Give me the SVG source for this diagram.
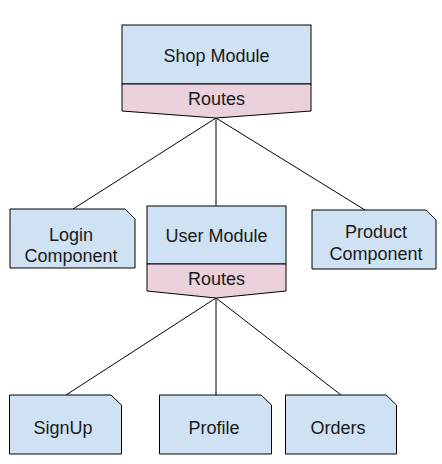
<svg xmlns="http://www.w3.org/2000/svg" width="442" height="464" viewBox="0 0 442 464">
<style>
.blue{fill:#cfe2f3;stroke:#000;stroke-width:1}
.pink{fill:#ead1dc;stroke:#000;stroke-width:1}
.t{font-family:"Liberation Sans",Arial,sans-serif;font-size:18px;fill:#1a1a1a;text-anchor:middle}
.c{stroke:#000;stroke-width:1;fill:none}
</style>
<rect width="442" height="464" fill="#fff"/>
<g id="connectors">
<line class="c" x1="216" y1="118" x2="73" y2="209"/>
<line class="c" x1="216" y1="118" x2="216" y2="206"/>
<line class="c" x1="216" y1="118" x2="365" y2="210"/>
<line class="c" x1="216" y1="298" x2="66" y2="395"/>
<line class="c" x1="216" y1="298" x2="216" y2="395"/>
<line class="c" x1="216" y1="298" x2="341" y2="395"/>
</g>
<g id="shop-module">
<rect class="blue" x="122" y="25" width="189" height="59"/>
<path class="pink" d="M122 84 H311 V111 L216 118 L122 111 Z"/>
<text class="t" x="216.5" y="62">Shop Module</text>
<text class="t" x="216.5" y="104.5">Routes</text>
</g>
<g id="login-component">
<path class="blue" d="M10 209 H125 L135 219 V268 H10 Z"/>
<text class="t" x="71" y="241">Login</text>
<text class="t" x="71" y="261.5">Component</text>
</g>
<g id="user-module">
<rect class="blue" x="147" y="206" width="139" height="58"/>
<path class="pink" d="M147 264 H286 V291 L216 298 L147 291 Z"/>
<text class="t" x="216.5" y="242">User Module</text>
<text class="t" x="216.5" y="284.5">Routes</text>
</g>
<g id="product-component">
<path class="blue" d="M312 210 H426 L436 220 V269 H312 Z"/>
<text class="t" x="376" y="238">Product</text>
<text class="t" x="376" y="260">Component</text>
</g>
<g id="signup">
<path class="blue" d="M9.5 395 H111 L121.5 405 V454 H9.5 Z"/>
<text class="t" x="63" y="434">SignUp</text>
</g>
<g id="profile">
<path class="blue" d="M159.5 395 H261 L271.5 405 V454 H159.5 Z"/>
<text class="t" x="214" y="434">Profile</text>
</g>
<g id="orders">
<path class="blue" d="M285.5 395 H386 L396.5 405 V454 H285.5 Z"/>
<text class="t" x="338" y="434">Orders</text>
</g>
</svg>
